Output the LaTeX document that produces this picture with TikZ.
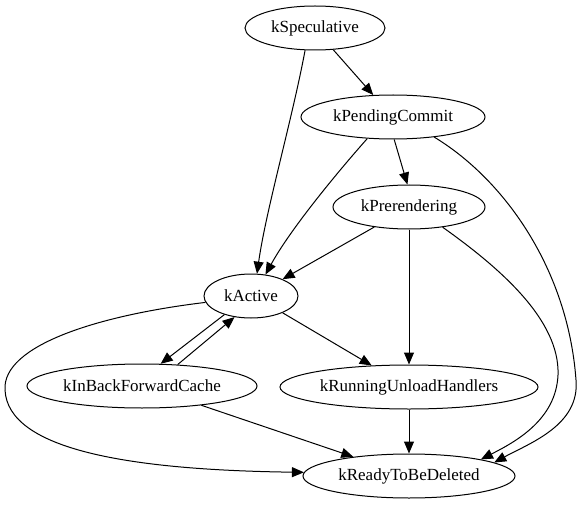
\documentclass[tikz,border=0pt]{standalone}
\usepackage{fontspec}
\setmainfont{Liberation Serif}
\usetikzlibrary{shapes.geometric,arrows.meta}
\tikzset{
  st/.style={ellipse, draw, line width=1pt, inner sep=0pt, minimum height=44pt, font=\fontsize{17}{20}\selectfont},
  edge/.style={line width=1pt, -{Triangle[length=12pt,width=10pt]}}
}
\begin{document}
\begin{tikzpicture}[x=1pt,y=-1pt]
\useasboundingbox (0,0) rectangle (583,505);
\node[st, minimum width=140pt] (sp) at (315,28) {kSpeculative};
\node[st, minimum width=184pt] (pc) at (393,117) {kPendingCommit};
\node[st, minimum width=152pt] (pr) at (409,207) {kPrerendering};
\node[st, minimum width=94pt] (ac) at (251,296) {kActive};
\node[st, minimum width=230pt] (bf) at (142,386) {kInBackForwardCache};
\node[st, minimum width=258pt] (ru) at (409,387) {kRunningUnloadHandlers};
\node[st, minimum width=212pt] (rd) at (409,476) {kReadyToBeDeleted};

\draw[edge] (sp.-50) -- (pc.132);
\draw[edge] (sp.-114) .. controls (292,120) and (266,210) .. (ac.75);
\draw[edge] (pc.-140) .. controls (335,175) and (290,230) .. (ac.56);
\draw[edge] (pc.-87) -- (pr.94);
\draw[edge] (pc.-26) .. controls (505,180) and (568,270) .. (576,380) .. controls (580,425) and (530,443) .. (rd.9);
\draw[edge] (pr.-150) -- (ac.28);
\draw[edge] (pr) -- (ru);
\draw[edge] (pr.-31) .. controls (500,268) and (560,320) .. (558,375) .. controls (556,420) and (515,442) .. (rd.13);
\draw[edge] (ac.-145) -- (bf.50);
\draw[edge] (bf.31) -- (ac.-128);
\draw[edge] (ac.-28) -- (ru.150);
\draw[edge] (ac.-172) .. controls (100,315) and (2,345) .. (5,390) .. controls (8,450) and (130,470) .. (rd.178);
\draw[edge] (bf.-18) -- (rd.161);
\draw[edge] (ru) -- (rd);
\end{tikzpicture}
\end{document}
